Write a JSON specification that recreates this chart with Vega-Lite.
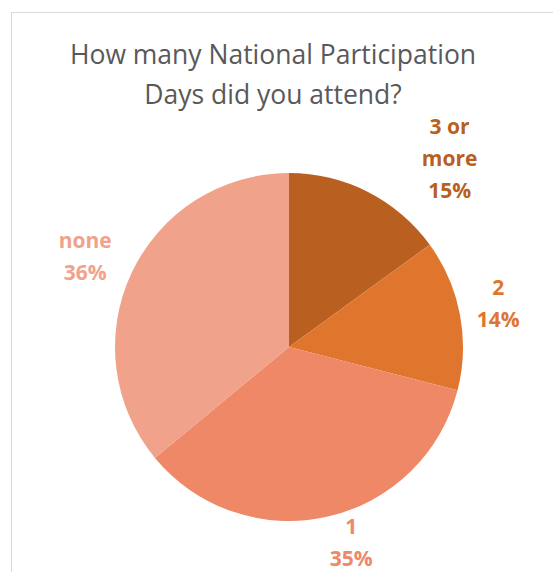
{
  "$schema": "https://vega.github.io/schema/vega-lite/v6.json",
  "width": 556,
  "height": 670,
  "autosize": "none",
  "padding": {"left": 11, "top": 12, "right": 0, "bottom": 0},
  "background": "white",
  "view": {"stroke": "#d9d9d9", "strokeWidth": 1},
  "config": {"view": {"stroke": "#d9d9d9", "strokeWidth": 1}},
  "title": {
    "text": ["How many National Participation", "Days did you attend?"],
    "font": "Open Sans",
    "fontSize": 26.5,
    "fontWeight": "normal",
    "color": "#595959",
    "anchor": "middle",
    "baseline": "top",
    "lineHeight": 40,
    "offset": -97,
    "dx": -16
  },
  "data": {
    "values": [
      {"category": "3 or more", "pct": 15},
      {"category": "2", "pct": 14},
      {"category": "1", "pct": 35},
      {"category": "none", "pct": 36}
    ]
  },
  "transform": [
    {"window": [{"op": "row_number", "as": "idx"}]},
    {"stack": "pct", "groupby": [], "sort": [{"field": "idx", "order": "ascending"}], "as": ["s0", "s1"]},
    {"calculate": "(datum.s0 + datum.s1) / 2", "as": "mid"},
    {"calculate": "replace(datum.category, 'or ', 'or\\n') + '\\n' + datum.pct + '%'", "as": "label"}
  ],
  "encoding": {
    "color": {
      "field": "category",
      "type": "nominal",
      "scale": {
        "domain": ["3 or more", "2", "1", "none"],
        "range": ["#B95F20", "#E0762E", "#EE8866", "#F0A28A"]
      },
      "legend": null
    }
  },
  "layer": [
    {
      "mark": {"type": "arc", "outerRadius": 174},
      "encoding": {
        "theta": {"field": "s0", "type": "quantitative", "scale": {"domain": [0, 100]}},
        "theta2": {"field": "s1"}
      }
    },
    {
      "transform": [{"filter": "datum.category == '2'"}],
      "mark": {"type": "text", "radius": 212, "dx": 1, "dy": -18, "font": "Open Sans", "fontSize": 21, "fontWeight": "bold", "lineBreak": "\n", "lineHeight": 32, "align": "center", "baseline": "middle"},
      "encoding": {
        "theta": {"field": "mid", "type": "quantitative", "scale": {"domain": [0, 100]}},
        "text": {"field": "label"}
      }
    },
    {
      "transform": [{"filter": "datum.category == 'none'"}],
      "mark": {"type": "text", "radius": 212, "dx": -12, "dy": -15, "font": "Open Sans", "fontSize": 21, "fontWeight": "bold", "lineBreak": "\n", "lineHeight": 32, "align": "center", "baseline": "middle"},
      "encoding": {
        "theta": {"field": "mid", "type": "quantitative", "scale": {"domain": [0, 100]}},
        "text": {"field": "label"}
      }
    },
    {
      "transform": [{"filter": "datum.category == '1'"}],
      "mark": {"type": "text", "radius": 212, "dx": 16, "dy": -26, "font": "Open Sans", "fontSize": 21, "fontWeight": "bold", "lineBreak": "\n", "lineHeight": 32, "align": "center", "baseline": "middle"},
      "encoding": {
        "theta": {"field": "mid", "type": "quantitative", "scale": {"domain": [0, 100]}},
        "text": {"field": "label"}
      }
    },
    {
      "transform": [{"filter": "datum.category == '3 or more'"}],
      "mark": {"type": "text", "radius": 215, "dx": 63, "dy": -27, "font": "Open Sans", "fontSize": 21, "fontWeight": "bold", "lineBreak": "\n", "lineHeight": 32, "align": "center", "baseline": "middle"},
      "encoding": {
        "theta": {"field": "mid", "type": "quantitative", "scale": {"domain": [0, 100]}},
        "text": {"field": "label"}
      }
    }
  ]
}
